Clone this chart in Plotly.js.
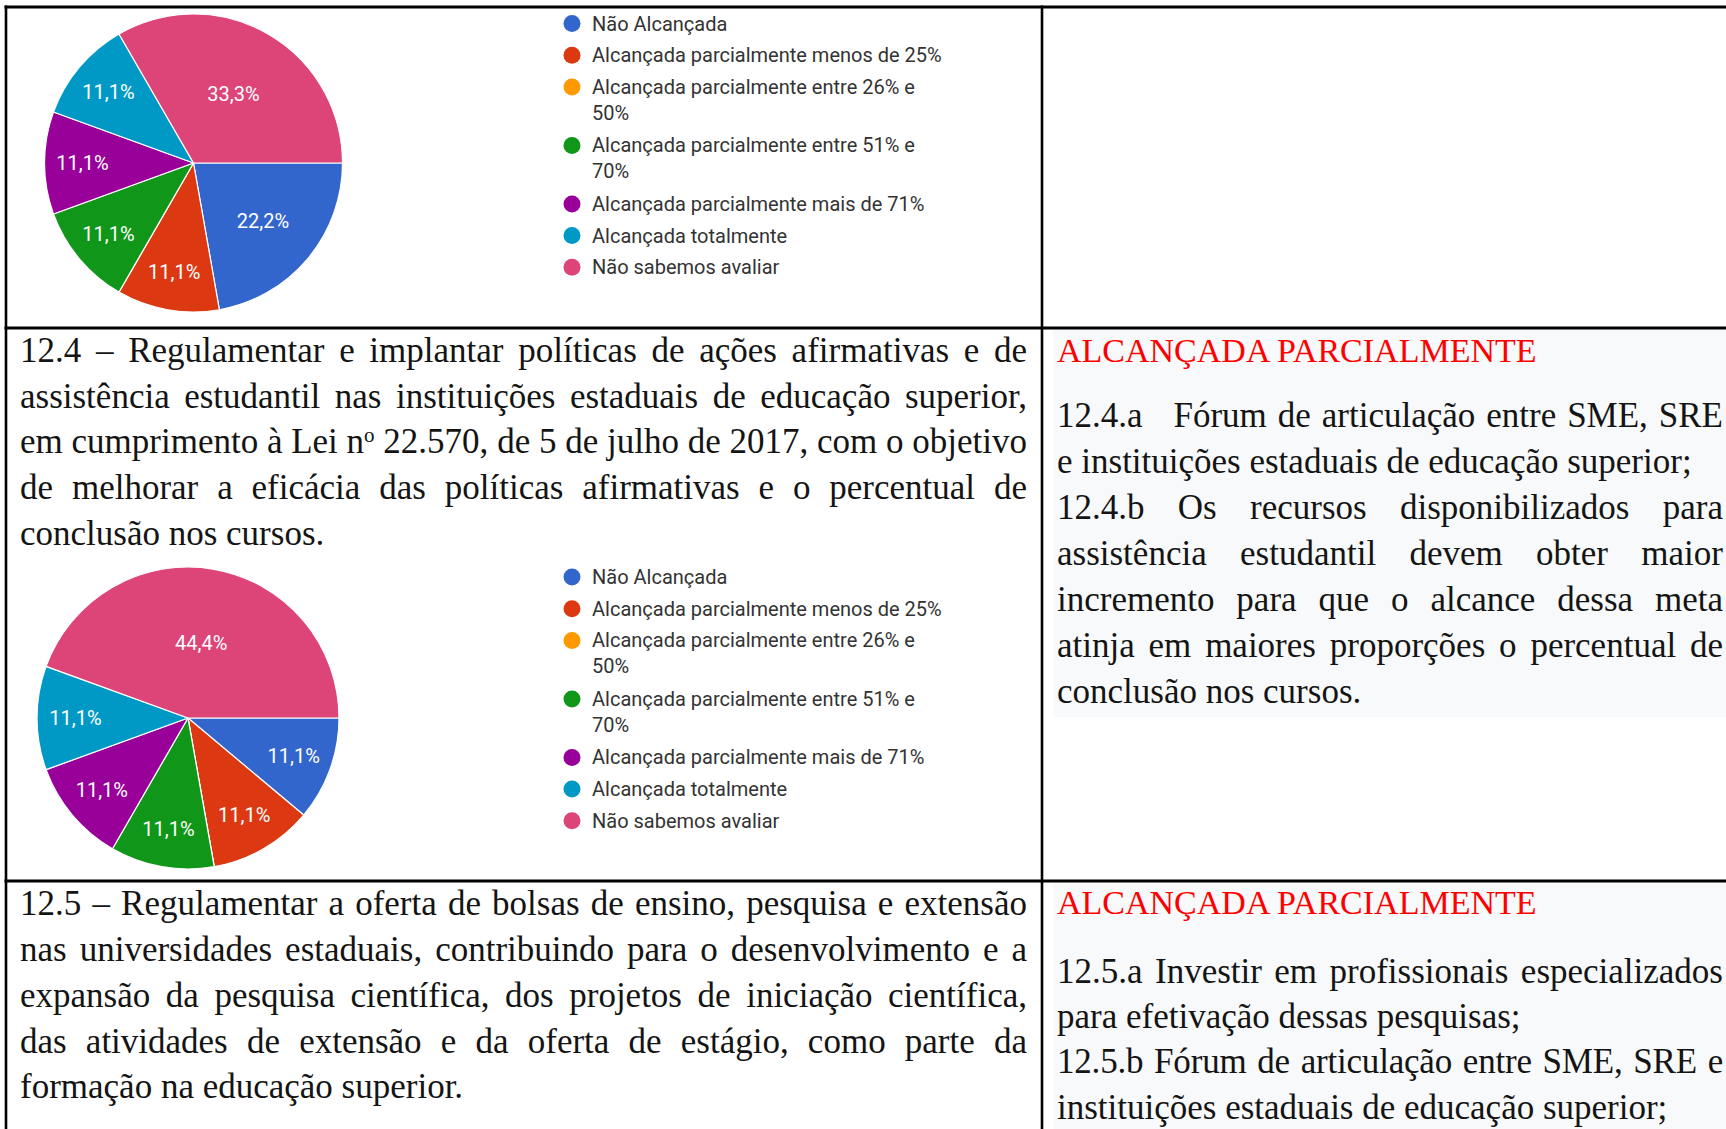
<!DOCTYPE html>
<html>
<head>
<meta charset="utf-8">
<script src="https://cdn.plot.ly/plotly-3.0.1.min.js"></script>
<style>
  html, body { margin:0; padding:0; background:#ffffff; width:1726px; height:1129px; overflow:hidden; }
  #plot { position:absolute; left:0; top:0; width:1726px; height:1129px; }
  #doc { position:absolute; left:0; top:0; width:1726px; height:1129px; pointer-events:none; z-index:5; }
  .ln { position:absolute; white-space:normal; font-family:"Liberation Serif","Times New Roman",serif; font-size:35px; line-height:46px; height:46px; color:#141414; overflow:visible; }
  .j { text-align:justify; text-align-last:justify; }
  .l { text-align:left; }
  .red { color:#ff0000; font-size:34px; }
  .sup { font-size:0.6em; position:relative; top:-0.55em; }
</style>
</head>
<body>
<div id="plot"></div>
<div id="doc"></div>
<script>
// ---------------- DATA ----------------
const categories = [
  'Não Alcançada',
  'Alcançada parcialmente menos de 25%',
  'Alcançada parcialmente entre 26% e 50%',
  'Alcançada parcialmente entre 51% e 70%',
  'Alcançada parcialmente mais de 71%',
  'Alcançada totalmente',
  'Não sabemos avaliar'
];
const sliceColors = ['#3366cc', '#dc3912', '#ff9900', '#109618', '#990099', '#0099c6', '#dd4477'];
// responses (9 respondents) – chart of the previous goal (top row)
const chartTopValues = [2, 1, 0, 1, 1, 1, 3];
// responses (9 respondents) – goal 12.4
const chart124Values = [1, 1, 0, 1, 1, 1, 4];

// ---------------- LAYOUT HELPERS ----------------
const W = 1726, H = 1129;
const px = x => x / W;
const py = y => 1 - y / H;

function pieTrace(values, cx, cy, r) {
  return {
    type: 'pie',
    labels: categories,
    values: values,
    sort: false,
    direction: 'clockwise',
    rotation: 90,
    marker: { colors: sliceColors, line: { color: '#ffffff', width: 1.2 } },
    textposition: 'inside',
    insidetextorientation: 'horizontal',
    texttemplate: values.map(v => v > 0 ? '%{percent:.1%}' : ''),
    textfont: { family: 'Roboto, Arial, sans-serif', size: 20, color: '#ffffff' },
    hoverinfo: 'label+percent',
    showlegend: false,
    domain: { x: [px(cx - r), px(cx + r)], y: [py(cy + r), py(cy - r)] }
  };
}

function wrapLabel(s, maxLen) {
  if (s.length <= maxLen) return [s];
  const cut = s.lastIndexOf(' ', maxLen);
  return [s.slice(0, cut), s.slice(cut + 1)];
}

const annotations = [];
const shapes = [];

function addLegend(firstCenterY) {
  let y = firstCenterY;
  categories.forEach((c, i) => {
    const lines = wrapLabel(c, 36);
    shapes.push({
      type: 'circle', xref: 'paper', yref: 'paper',
      x0: px(572 - 8.5), x1: px(572 + 8.5), y0: py(y + 8.5), y1: py(y - 8.5),
      fillcolor: sliceColors[i], line: { width: 0 }
    });
    annotations.push({
      xref: 'paper', yref: 'paper', x: px(590), y: py(y - 14),
      xanchor: 'left', yanchor: 'top', align: 'left', showarrow: false,
      text: lines.join('<br>'),
      font: { family: 'Roboto, Arial, sans-serif', size: 20, color: '#333333' }
    });
    y += lines.length > 1 ? 58.5 : 31.7;
  });
}
addLegend(23.5);
addLegend(577);

// cell backgrounds
[[1053, 330, W, 717], [1053, 884, W, H]].forEach(r => shapes.push({
  type: 'rect', xref: 'paper', yref: 'paper', layer: 'below',
  x0: px(r[0]), x1: px(r[2]), y0: py(r[3]), y1: py(r[1]),
  fillcolor: '#f8f9fa', line: { width: 0 }
}));
// table rules
[7, 328, 881].forEach(y => shapes.push({
  type: 'line', xref: 'paper', yref: 'paper',
  x0: px(4.5), x1: px(W), y0: py(y), y1: py(y), line: { color: '#000', width: 3 }
}));
[6, 1042].forEach(x => shapes.push({
  type: 'line', xref: 'paper', yref: 'paper',
  x0: px(x), x1: px(x), y0: py(5.5), y1: py(H), line: { color: '#000', width: 2.6 }
}));

const data = [
  pieTrace(chartTopValues, 193.5, 163, 149),
  pieTrace(chart124Values, 188, 718, 151)
];

const layout = {
  width: W, height: H,
  margin: { l: 0, r: 0, t: 0, b: 0, pad: 0 },
  paper_bgcolor: 'rgba(0,0,0,0)',
  plot_bgcolor: 'rgba(0,0,0,0)',
  separators: ',.',
  showlegend: false,
  shapes: shapes,
  annotations: annotations
};

Plotly.newPlot('plot', data, layout, { displayModeBar: false, staticPlot: true });

// ---------------- DOCUMENT TEXT ----------------
const doc = document.getElementById('doc');
function addLine(html, left, baseline, width, cls) {
  const d = document.createElement('div');
  d.className = 'ln ' + cls;
  const isRed = cls.indexOf('red') >= 0;
  d.style.left = left + 'px';
  d.style.top = (baseline - (isRed ? 34.5 : 34.8)) + 'px';
  d.style.width = width + 'px';
  d.innerHTML = html;
  doc.appendChild(d);
}
const LX = 20, LW = 1007, RX = 1057, RW = 666;

const row2Left = [
  ['12.4 – Regulamentar e implantar políticas de ações afirmativas e de', 'j'],
  ['assistência estudantil nas instituições estaduais de educação superior,', 'j'],
  ['em cumprimento à Lei n<span class="sup">o</span> 22.570, de 5 de julho de 2017, com o objetivo', 'j'],
  ['de melhorar a eficácia das políticas afirmativas e o percentual de', 'j'],
  ['conclusão nos cursos.', 'l']
];
row2Left.forEach((t, i) => addLine(t[0], LX, 362.5 + 45.8 * i, LW, t[1]));

addLine('ALCANÇADA PARCIALMENTE', RX, 362, RW, 'l red');
const row2Right = [
  ['<span style="margin-right:20px">12.4.a</span> Fórum de articulação entre SME, SRE', 'j'],
  ['e instituições estaduais de educação superior;', 'l'],
  ['12.4.b Os recursos disponibilizados para', 'j'],
  ['assistência estudantil devem obter maior', 'j'],
  ['incremento para que o alcance dessa meta', 'j'],
  ['atinja em maiores proporções o percentual de', 'j'],
  ['conclusão nos cursos.', 'l']
];
row2Right.forEach((t, i) => addLine(t[0], RX, 428.2 + 46 * i, RW, t[1]));

const row3Left = [
  ['12.5 – Regulamentar a oferta de bolsas de ensino, pesquisa e extensão', 'j'],
  ['nas universidades estaduais, contribuindo para o desenvolvimento e a', 'j'],
  ['expansão da pesquisa científica, dos projetos de iniciação científica,', 'j'],
  ['das atividades de extensão e da oferta de estágio, como parte da', 'j'],
  ['formação na educação superior.', 'l']
];
row3Left.forEach((t, i) => addLine(t[0], LX, 916 + 45.8 * i, LW, t[1]));

addLine('ALCANÇADA PARCIALMENTE', RX, 914, RW, 'l red');
const row3Right = [
  ['12.5.a Investir em profissionais especializados', 'j'],
  ['para efetivação dessas pesquisas;', 'l'],
  ['<span style="letter-spacing:-0.2px">12.5.b Fórum de articulação entre SME, SRE e</span>', 'j'],
  ['instituições estaduais de educação superior;', 'l']
];
row3Right.forEach((t, i) => addLine(t[0], RX, 983.5 + 45.3 * i, RW, t[1]));
</script>
</body>
</html>
